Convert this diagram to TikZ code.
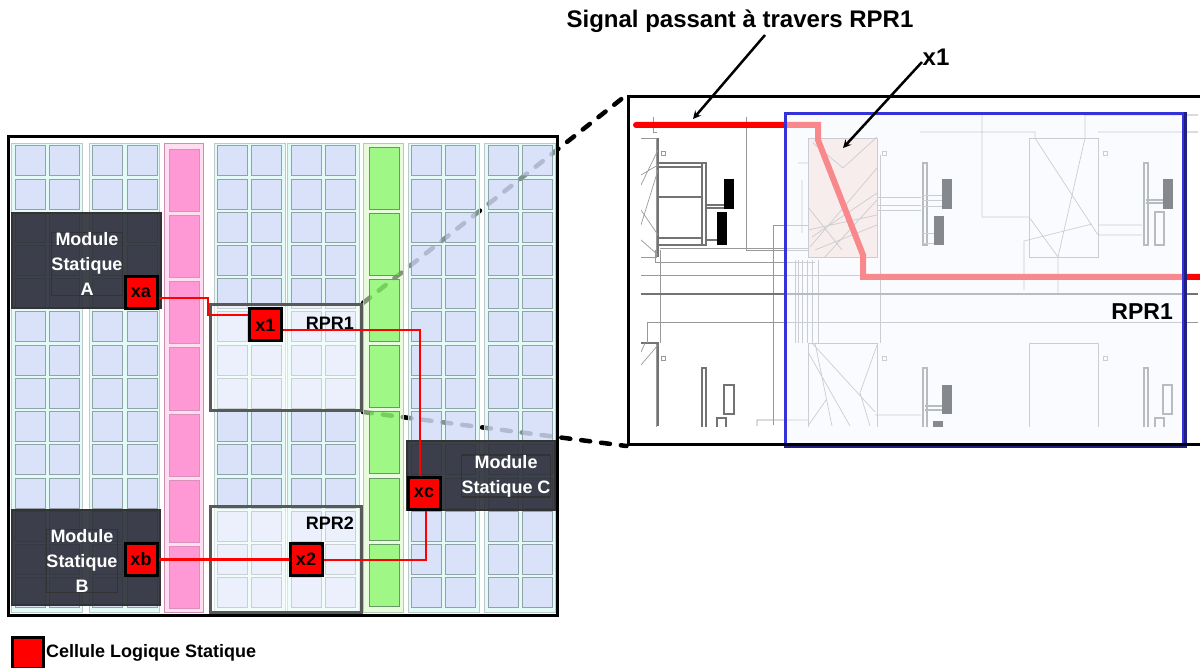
\documentclass[tikz,border=0pt]{standalone}
\usepackage{fontspec}
\setmainfont{Liberation Sans}
\usetikzlibrary{backgrounds}
\definecolor{blockbg}{rgb}{0.82,0.97,0.95}
\definecolor{cellblue}{rgb}{0.83,0.83,0.99}
\definecolor{cellline}{rgb}{0.56,0.64,0.66}
\definecolor{pinkbg}{rgb}{1,0.87,0.94}
\definecolor{pinkcell}{rgb}{1,0.6,0.84}
\definecolor{greenbg}{rgb}{0.85,0.98,0.78}
\definecolor{greencell}{rgb}{0.44,0.97,0.30}
\definecolor{greenline}{rgb}{0.40,0.60,0.40}
\definecolor{modfill}{rgb}{0.17,0.18,0.22}
\definecolor{hilite}{rgb}{0.99,0.88,0.84}
\definecolor{overlay}{rgb}{0.955,0.973,1}
\definecolor{rprblue}{rgb}{0.2,0.2,0.85}
\tikzset{
  blockfill/.style={fill=blockbg, fill opacity=0.6, draw=cellline!60, line width=0.7pt},
  cellbox/.style={fill=cellblue, fill opacity=0.6, draw=cellline, line width=1pt},
  pinkblock/.style={fill=pinkbg, draw=pinkcell!60!gray, line width=0.7pt},
  pinkbox/.style={fill=pinkcell, draw=pinkcell!70!gray, line width=0.8pt},
  greenblock/.style={fill=greenbg, fill opacity=0.6, draw=greenline!50, line width=0.7pt},
  greenbox/.style={fill=greencell, fill opacity=0.6, draw=greenline, line width=0.8pt},
  module/.style={fill=modfill, fill opacity=0.9, text opacity=1, draw=black!80, line width=1.5pt,
    text=white, align=center, inner sep=0pt, font=\fontsize{18}{25}\selectfont\bfseries},
  rprbox/.style={fill=white, fill opacity=0.5, draw=black!65, line width=3pt, inner sep=0pt},
  redcell/.style={fill=red, draw=black, line width=3pt, minimum size=32pt, inner sep=0pt,
    font=\fontsize{18}{20}\selectfont\bfseries},
  rprtxt/.style={font=\fontsize{18}{20}\selectfont\bfseries, inner sep=0pt},
  wire/.style={draw=red, line width=2.5pt},
  zoomline/.style={draw=black, line width=4.5pt, line cap=round, dash pattern=on 9pt off 11pt},
  thin wire/.style={draw=black!40, line width=0.7pt},
  heavy wire/.style={draw=black!55, line width=1.1pt},
  pointer/.style={draw=black, line width=2.5pt, ->, >=stealth},
}
\begin{document}
\begin{tikzpicture}[x=1pt, y=-1pt]
\useasboundingbox (0,0) rectangle (1200,668);
\clip (0,0) rectangle (1200,668);
% plan of the device
\foreach \bx/\bw in {11/71, 89/70, 214/71, 287/72, 408/71, 484/71}
  \draw[blockfill] (\bx,143) rectangle ++(\bw,469);
\foreach \cx in {15, 49, 92, 127, 217, 251, 291, 325, 411, 445, 488, 522}
  \foreach \r in {0,...,13}
    \draw[cellbox] (\cx,{146+33.2*\r}) rectangle ++(30,30);
\draw[pinkblock] (164,143) rectangle (203,612);
\foreach \r in {0,...,6}
  \draw[pinkbox] (169,{149+66.3*\r}) rectangle ++(30,62);
\draw[greenblock] (363,143) rectangle (403,612);
\foreach \r in {0,...,6}
  \draw[greenbox] (369,{147+66.2*\r}) rectangle ++(30,62);
\node[rprbox, minimum width=151pt, minimum height=106pt] (rpr1) at (286,357.5) {};
\node[rprbox, minimum width=151pt, minimum height=106pt] (rpr2) at (286,559.5) {};
\node[rprtxt, anchor=east] (rpr1txt) at (354,323) {RPR1};
\node[rprtxt, anchor=east] (rpr2txt) at (354,523) {RPR2};
\node[module, minimum width=149pt, minimum height=95pt] (moda) at (86.5,260.5) {};
\node[module, minimum width=148pt, minimum height=95pt] (modb) at (86,557.5) {};
\node[module, minimum width=148pt, minimum height=69pt] (modc) at (481,475.5) {};
\node[module, fill=none] (modatxt) at (87,264) {Module\\Statique\\A};
\node[module, fill=none] (modbtxt) at (82,561) {Module\\Statique\\B};
\node[module, fill=none] (modctxt) at (506,476) {Module\\Statique C};
\node[redcell] (xa) at (141,292.5) {xa};
\node[redcell] (x1) at (265.5,325) {x1};
\node[redcell] (xb) at (141,559.5) {xb};
\node[redcell] (x2) at (306,559.5) {x2};
\node[redcell] (xc) at (424,493) {xc};
\coordinate (jxa) at (208,298);
\coordinate (jx1) at (208,315);
\coordinate (jtop) at (420,330);
\coordinate (jbot) at (426,560);
\draw[wire] (xa.east |- jxa) -- (jxa) -- (jx1) -- (x1.west |- jx1);
\draw[wire] (x1.east |- jtop) -- (jtop) -- (jtop |- xc.north);
\draw[wire] (jbot |- xc.south) -- (jbot) -- (x2.east |- jbot);
\draw[wire] (x2.west) -- (xb.east);
\draw[black, line width=3pt] (8,137) rectangle (557,615);
% layout seen through the zoom
\begin{scope}
\clip (641,112) rectangle (1198,426);
\fill[hilite] (808,138) rectangle (877,257);
\foreach \tx in {0,221,442} {
  \draw[thin wire] (587+\tx,138) rectangle (656+\tx,257);
  \draw[thin wire] (587+\tx,343) rectangle (656+\tx,440);
  \draw[thin wire] (661+\tx,151) rectangle ++(4,4);
  \draw[thin wire] (661+\tx,356) rectangle ++(4,4);
  \draw[heavy wire] (702+\tx,163) rectangle (706+\tx,245);
  \draw[heavy wire] (702+\tx,368) rectangle (706+\tx,440);
}
% first tile
\foreach \ly in {163,167,197,238,245}
  \draw[heavy wire] (658,\ly) -- (702,\ly);
\draw[heavy wire] (658,138) -- (658,257);
\draw[heavy wire] (706,205) -- (724,205) (706,208) -- (724,208) (706,240) -- (717,240);
\fill[black] (724,179) rectangle (734,209);
\fill[black] (717,212) rectangle (727,245);
\draw[thin wire] (641,175) -- (658,165) (641,185) -- (658,150) (641,210) -- (658,235)
  (641,240) -- (658,255) (641,225) -- (658,170);
\draw[heavy wire] (641,343) -- (658,343) -- (658,426);
\draw[thin wire] (641,365) -- (658,345) (645,343) -- (641,352);
\draw[heavy wire] (724,385) rectangle (734,414);
\draw[heavy wire] (717,418) rectangle (726,440);
% second tile
\foreach \ly in {195,200,206}
  \draw[thin wire] (923,\ly) -- (942,\ly);
\draw[thin wire] (923,233) -- (934,233) (923,243) -- (934,243) (877,197) -- (921,197)
  (877,205) -- (921,205) (877,210) -- (921,210);
\fill[black] (942,179) rectangle (952,209);
\fill[black] (934,216) rectangle (944,245);
\draw[thin wire] (810,247) -- (877,168) (812,237) -- (877,193) (808,207) -- (842,250)
  (808,230) -- (877,215) (813,143) -- (843,168) -- (877,137) (802,180) -- (802,233)
  (798,163) -- (808,163) (825,257) -- (877,200) (815,250) -- (877,225);
\fill[black] (942,385) rectangle (952,414);
\fill[black] (933,421) rectangle (943,440);
\draw[heavy wire] (925,406) -- (942,406) (925,410) -- (942,410);
\draw[thin wire] (812,343) -- (875,412) (815,343) -- (832,426) (808,352) -- (850,426)
  (877,345) -- (860,393) -- (870,426) (808,426) -- (826,400) (875,415) -- (921,415)
  (757,426) -- (757,420) -- (808,420);
% third tile
\draw[thin wire] (982,112) -- (982,217) -- (1029,217) (920,132) -- (1035,132) -- (1035,138)
  -- (1098,235) (1085,115) -- (1085,138) -- (1058,257) -- (1058,294) (1029,217) -- (1058,257)
  (1024,290) -- (1024,241) -- (1092,224) (1098,225) -- (1142,225) (1098,235) -- (1142,235)
  (1085,115) -- (1198,115) (1098,132) -- (1198,132);
\draw[heavy wire] (1146,200) -- (1163,200) (1146,203) -- (1163,203);
\fill[black] (1163,179) rectangle (1173,209);
\draw[heavy wire] (1155,212) rectangle (1164,245);
\draw[heavy wire] (1163,385) rectangle (1172,414);
\draw[heavy wire] (1155,418) rectangle (1164,440);
% routing
\draw[thin wire] (653,117) -- (653,132) -- (657,132) (746,117) -- (746,250) -- (808,250)
  (773,425) -- (773,225) -- (808,225) (660,248) -- (808,248) (655,250) -- (655,262) -- (815,262)
  (641,275) -- (1098,275) (660,250) -- (660,343) (647,343) -- (647,322) -- (1198,322)
  (795,260) -- (795,343) (798,260) -- (798,343) (802,260) -- (802,343) (807,260) -- (807,343)
  (812,260) -- (812,343) (818,260) -- (818,343) (880,155) -- (880,343);
\draw[heavy wire] (641,294) -- (1198,294);
\end{scope}
\coordinate (sigstart) at (636,125);
\coordinate (sigend) at (1200,277);
\draw[draw=red, line width=6pt, line cap=round] (sigstart) -- (818,125) -- (818,140)
  -- (863,255) -- (863,277) -- (sigend);
\node[fill=overlay, fill opacity=0.55, draw=rprblue, line width=3pt, minimum width=398pt,
  minimum height=331pt, inner sep=0pt] (zoomrpr) at (984.5,279) {};
\draw[draw=rprblue!60!black, line width=3pt] (zoomrpr.north east) -- (zoomrpr.south east) -- (zoomrpr.south west);
\node[rprtxt, anchor=east, font=\fontsize{23}{26}\selectfont\bfseries] (zoomtxt) at (1173,312) {RPR1};
\node[draw=black, line width=3pt, minimum width=580pt, minimum height=348pt, inner sep=0pt] (zoomframe) at (918,270.5) {};
\begin{scope}[on background layer]
\draw[zoomline] (rpr1.north east) -- (zoomframe.north west);
\draw[zoomline] (rpr1.south east) -- (zoomframe.south west);
\end{scope}
% labels
\node[font=\fontsize{24}{28}\selectfont\bfseries, inner sep=0pt] (signaltxt) at (740,21) {Signal passant à travers RPR1};
\node[font=\fontsize{24}{28}\selectfont\bfseries, inner sep=0pt] (x1txt) at (936,57) {x1};
\coordinate (sigfoot) at (765,35);
\coordinate (sigtip) at (693,119);
\coordinate (x1foot) at (922,62);
\coordinate (x1tip) at (843,148);
\draw[pointer] (sigfoot) -- (sigtip);
\draw[pointer] (x1foot) -- (x1tip);
% legend
\node[fill=red, draw=black, line width=3pt, minimum width=31pt, minimum height=31pt, inner sep=0pt] (legendcell) at (27.5,652.5) {};
\node[anchor=west, font=\fontsize{18}{20}\selectfont\bfseries, inner sep=0pt] (legendtxt) at (46,653) {Cellule Logique Statique};
\end{tikzpicture}
\end{document}
